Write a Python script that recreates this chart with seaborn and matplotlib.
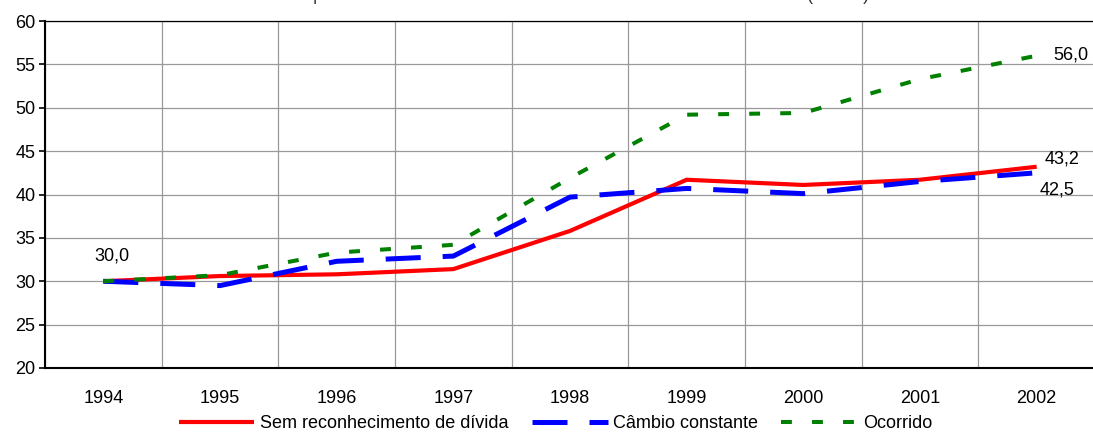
import matplotlib
matplotlib.use("Agg")
import matplotlib.pyplot as plt
from matplotlib.ticker import FixedLocator, MultipleLocator
import seaborn as sns
import pandas as pd

# Dívida líquida (% PIB), 1994-2002
anos = ["1994", "1995", "1996", "1997", "1998", "1999", "2000", "2001", "2002"]
sem_reconhecimento = [30.0, 30.6, 30.8, 31.4, 35.8, 41.7, 41.1, 41.7, 43.2]
cambio_constante = [30.0, 29.5, 32.3, 32.9, 39.7, 40.7, 40.1, 41.5, 42.5]
ocorrido = [30.0, 30.7, 33.3, 34.2, 41.9, 49.2, 49.4, 53.3, 56.0]

nomes = ["Sem reconhecimento de dívida", "Câmbio constante", "Ocorrido"]
titulo = "Dívida líquida com câmbio constante e sem reconhecimento de dívida (% PIB)"

sns.set_theme(style="white")
plt.rcParams["font.family"] = ["Liberation Sans", "DejaVu Sans"]
plt.rcParams["text.color"] = "black"

W, H, DPI = 1093, 432, 100
fig = plt.figure(figsize=(W / DPI, H / DPI), dpi=DPI)
ax = fig.add_axes([45 / W, 1 - 368 / H, 1050 / W, 347 / H])

pos = list(range(len(anos)))
estilos = [
    dict(color="#FF0000", linewidth=3.0, linestyle="-", solid_capstyle="butt"),
    dict(color="#0000FF", linewidth=3.6, linestyle=(0, (7.0, 4.4))),
    dict(color="#008000", linewidth=2.9, linestyle=(0, (2.7, 5.0))),
]
series = [sem_reconhecimento, cambio_constante, ocorrido]
for nome, valores, st in zip(nomes, series, estilos):
    df = pd.DataFrame({"pos": pos, "valor": valores})
    sns.lineplot(data=df, x="pos", y="valor", ax=ax, label=nome, **st)

# Axes limits and ticks
ax.set_xlim(-0.5, len(anos) - 0.5)
ax.set_ylim(20, 60)
ax.yaxis.set_major_locator(MultipleLocator(5))
ax.set_xticks(pos)
ax.set_xticklabels(anos)
ax.xaxis.set_minor_locator(FixedLocator([p + 0.5 for p in range(-1, len(anos))]))
ax.set_xlabel("")
ax.set_ylabel("")

ax.tick_params(axis="x", which="major", length=0, pad=16, labelsize=13, colors="black")
ax.tick_params(axis="x", which="minor", length=4, width=1, color="#808080", direction="out")
ax.tick_params(axis="y", which="major", length=4, width=1.2, color="black", pad=3,
               labelsize=13, labelcolor="black", direction="out", left=True)

ax.grid(False)
ax.grid(True, axis="y", which="major", color="#999999", linewidth=0.9)
ax.grid(True, axis="x", which="minor", color="#999999", linewidth=0.9)
ax.set_axisbelow(True)

for s in ["left", "bottom"]:
    ax.spines[s].set_color("black")
    ax.spines[s].set_linewidth(1.5)
ax.spines["top"].set_color("black")
ax.spines["top"].set_linewidth(0.9)
ax.spines["right"].set_visible(False)

# Value labels
fmt = lambda v: f"{v:.1f}".replace(".", ",")
rot = dict(fontsize=13, color="black", va="center")
ax.annotate(fmt(ocorrido[0]), (0, ocorrido[0]), xytext=(6, 18), textcoords="offset points",
            ha="center", **rot)
ax.annotate(fmt(ocorrido[-1]), (8, ocorrido[-1]), xytext=(12, 0.5), textcoords="offset points",
            ha="left", **rot)
ax.annotate(fmt(sem_reconhecimento[-1]), (8, sem_reconhecimento[-1]), xytext=(6, 5.5),
            textcoords="offset points", ha="left", **rot)
ax.annotate(fmt(cambio_constante[-1]), (8, cambio_constante[-1]), xytext=(2, -12.5),
            textcoords="offset points", ha="left", **rot)

# Legend below the plot
ax.get_legend().remove()
leg = fig.legend(handles=ax.lines[:3], labels=nomes, loc="center", bbox_to_anchor=(0.508, 0.019),
                 ncol=3, frameon=False, fontsize=13, handlelength=4.2, handletextpad=0.3,
                 columnspacing=1.3, borderpad=0)
for t in leg.get_texts():
    t.set_color("black")

# Title sitting at the very top edge of the figure
fig.text(0.508, 1 + 0.5 / H, titulo, ha="center", va="baseline", fontsize=13,
         color="#333333")

fig.savefig("out.png", dpi=DPI)
